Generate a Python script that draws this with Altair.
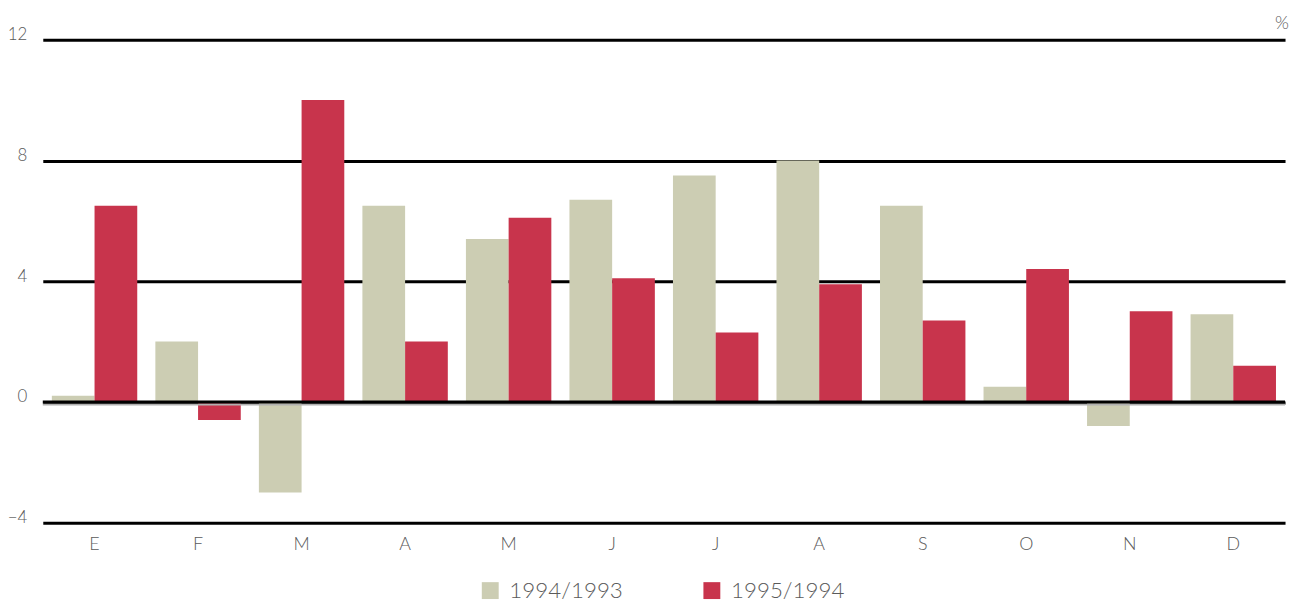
import json
import altair as alt
import pandas as pd

months = ["E", "F", "M", "A", "M", "J", "J", "A", "S", "O", "N", "D"]
v1994 = [0.2, 2.0, -3.0, 6.5, 5.4, 6.7, 7.5, 8.0, 6.5, 0.5, -0.8, 2.9]
v1995 = [6.5, -0.6, 10.0, 2.0, 6.1, 4.1, 2.3, 3.9, 2.7, 4.4, 3.0, 1.2]
series = ["1994/1993", "1995/1994"]
y_ticks = [-4, 0, 4, 8, 12]

rows = []
for i in range(len(months)):
    rows.append({"idx": i, "serie": series[0], "value": v1994[i]})
    rows.append({"idx": i, "serie": series[1], "value": v1995[i]})
df = pd.DataFrame(rows)

FONT = "Lato"
TXT = "#5a5a5a"
label_expr = json.dumps(months) + "[datum.value]"

W, H = 1250, 486

bars = alt.Chart(df).mark_bar().encode(
    x=alt.X("idx:N",
            scale=alt.Scale(paddingInner=0.175, paddingOuter=0.0875),
            axis=alt.Axis(title=None, domain=False, ticks=False, labelAngle=0,
                          labelExpr=label_expr, labelFont=FONT, labelFontSize=18,
                          labelFontWeight=300, labelColor=TXT, labelPadding=13)),
    xOffset=alt.XOffset("serie:N", scale=alt.Scale(paddingInner=0, paddingOuter=0)),
    y=alt.Y("value:Q",
            scale=alt.Scale(domain=[-4, 12], nice=False, zero=False),
            axis=alt.Axis(title=None, values=y_ticks, domain=False, ticks=False,
                          grid=True, gridColor="#000000", gridWidth=3, gridOpacity=1,
                          labelFont=FONT, labelFontSize=17, labelFontWeight=300,
                          labelColor=TXT, labelAlign="right", labelBaseline="alphabetic",
                          labelPadding=16, labelOffset=0)),
    color=alt.Color("serie:N",
                    scale=alt.Scale(domain=series, range=["#cccdb3", "#c8344c"]),
                    legend=alt.Legend(title=None, orient="none", direction="horizontal",
                                      legendX=439, legendY=543, symbolType="square",
                                      symbolSize=289, symbolStrokeWidth=0,
                                      labelFont=FONT, labelFontSize=22.5, labelFontWeight=300,
                                      labelColor=TXT, labelOffset=8, columnPadding=78,
                                      labelLimit=300)),
)

shadow = alt.Chart(pd.DataFrame({"y": [0]})).mark_rule(
    color="#b0b0b0", strokeWidth=2, yOffset=2.5
).encode(y="y:Q")

zero = alt.Chart(pd.DataFrame({"y": [0]})).mark_rule(
    color="#000000", strokeWidth=3
).encode(y="y:Q")

pct = alt.Chart(pd.DataFrame({"t": ["%"]})).mark_text(
    font=FONT, fontSize=18, fontWeight=300, color=TXT, align="center", baseline="alphabetic"
).encode(text="t:N", x=alt.value(1247), y=alt.value(-11))

chart = alt.layer(bars, shadow, zero, pct).properties(
    width=W, height=H,
    autosize=alt.AutoSizeParams(type="none"),
    padding={"left": 35, "top": 30, "right": 6, "bottom": 80},
).configure_view(stroke=None)

chart.save("out.html", embed_options={"renderer": "svg", "actions": False})
